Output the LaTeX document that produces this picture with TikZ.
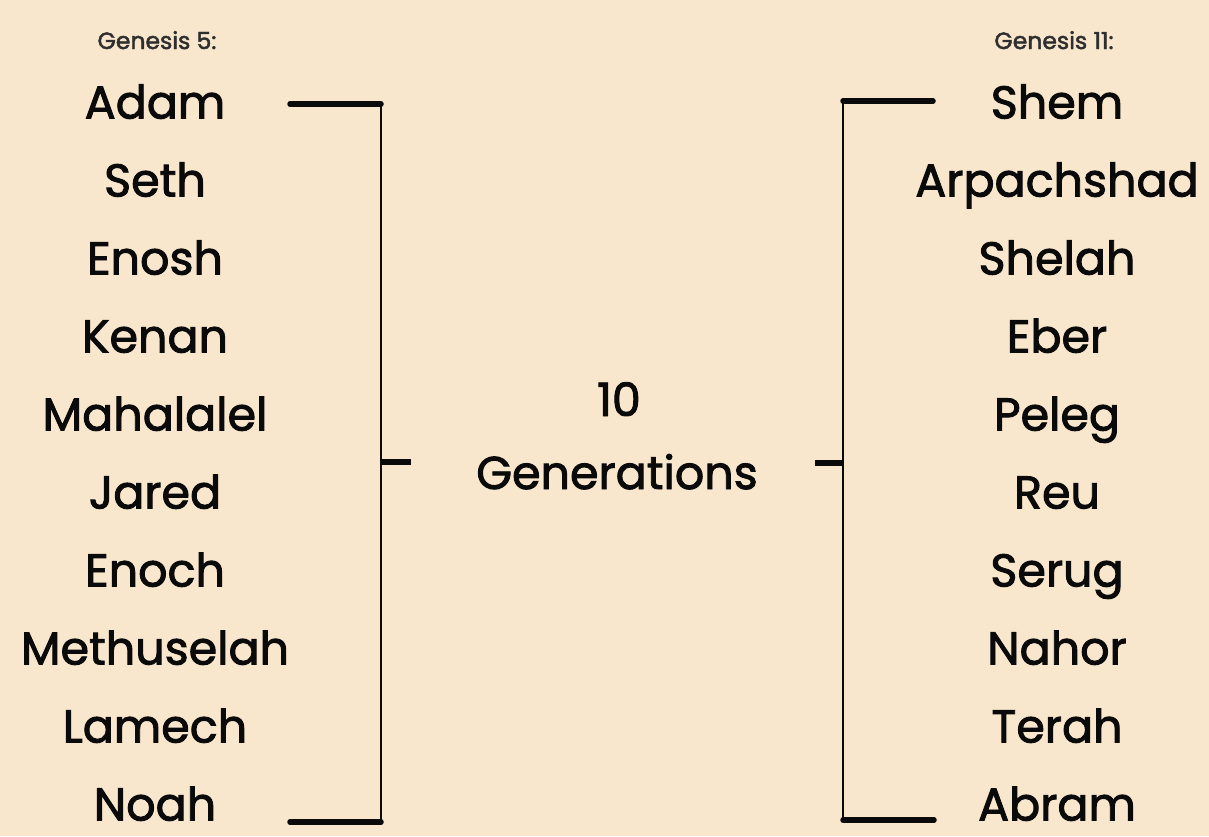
\documentclass[tikz,border=0pt]{standalone}
\usepackage{fontspec}
\setmainfont{Poppins}[FakeBold=2]
\definecolor{parch}{HTML}{F9E7CD}
\definecolor{ink}{HTML}{0A0A0A}
\tikzset{
  pname/.style={font=\fontsize{46}{52}\selectfont, text=ink, anchor=base, inner sep=0pt, text depth=0pt},
  phead/.style={font=\fontsize{23.5}{26}\selectfont, text=ink!85, anchor=base, inner sep=0pt},
  thickbar/.style={line width=5.5pt, line cap=round, draw=ink},
  thinbar/.style={line width=2.6pt, draw=ink}}
\begin{document}
\begin{tikzpicture}[x=1pt,y=-1pt]
\fill[parch] (0,0) rectangle (1209,836);
\useasboundingbox (0,0) rectangle (1209,836);
% headings
\node[phead] (g5) at (157,49) {Genesis 5:};
\node[phead] (g11) at (1054,49) {Genesis 11:};
% left names
\foreach \n [count=\i from 0] in {Adam,Seth,Enosh,Kenan,Mahalalel,Jared,Enoch,Methuselah,Lamech,Noah}
  \node[pname] (L\i) at (155,{118.5+78*\i}) {\n};
% right names
\foreach \n [count=\i from 0] in {Shem,Arpachshad,Shelah,Eber,Peleg,Reu,Serug,Nahor,Terah,Abram}
  \node[pname] (R\i) at (1057,{118.5+78*\i}) {\n};
% center
\node[pname] (ten) at (619,416) {10};
\node[pname] (gen) at (617,489) {Generations};
% left bracket
\coordinate (lt1) at (290,104);
\coordinate (lt2) at (381,104);
\coordinate (lb1) at (290,822);
\coordinate (lb2) at (381,822);
\coordinate (lm1) at (381,462);
\coordinate (lm2) at (411,462);
\draw[thinbar] (lt2) -- (lb2);
\draw[thickbar] (lt1) -- (lt2);
\draw[thickbar] (lb1) -- (lb2);
\draw[thickbar, line cap=butt] (lm1) -- (lm2);
% right bracket
\coordinate (rt1) at (843,101);
\coordinate (rt2) at (933,101);
\coordinate (rb1) at (843,820);
\coordinate (rb2) at (934,820);
\coordinate (rm1) at (815,463);
\coordinate (rm2) at (843,463);
\draw[thinbar] (rt1) -- (rb1);
\draw[thickbar] (rt1) -- (rt2);
\draw[thickbar] (rb1) -- (rb2);
\draw[thickbar, line cap=butt] (rm1) -- (rm2);
\end{tikzpicture}
\end{document}
